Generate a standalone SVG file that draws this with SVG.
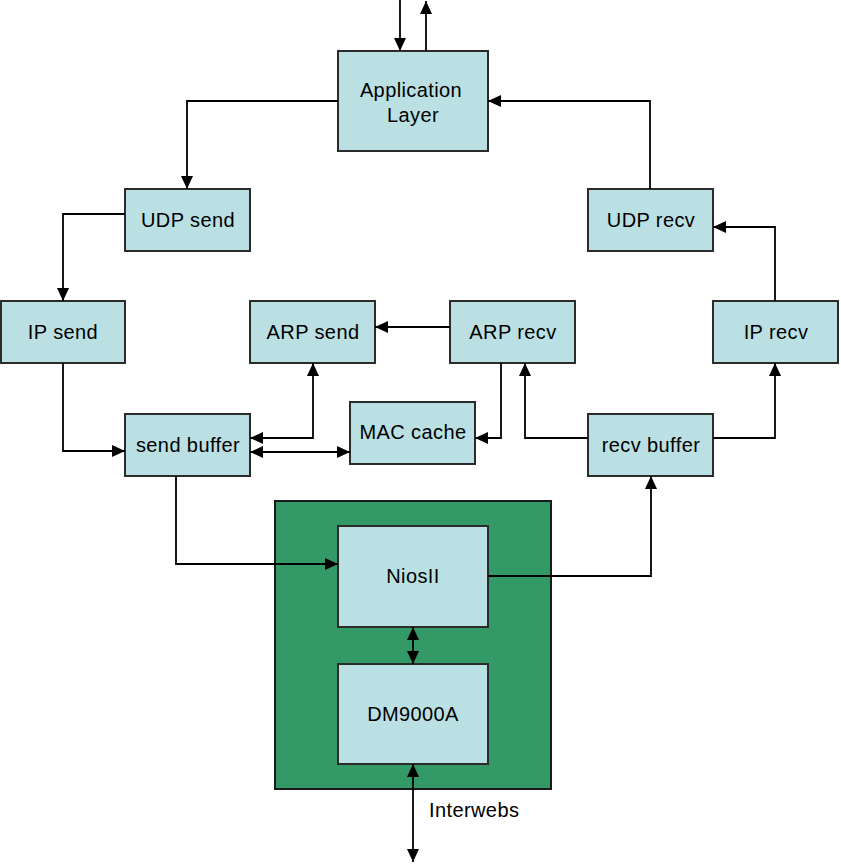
<svg xmlns="http://www.w3.org/2000/svg" width="841" height="867" viewBox="0 0 841 867">
<style>
.b{fill:#bbe0e3;stroke:#2b2b2b;stroke-width:2}
.t{font-family:"Liberation Sans",Arial,sans-serif;font-size:20px;letter-spacing:0.4px;fill:#000;text-anchor:middle}
.c{fill:none;stroke:#000;stroke-width:1.8}
</style>
<defs>
<marker id="a" viewBox="0 0 13 12" refX="13" refY="6" markerWidth="13" markerHeight="12" markerUnits="userSpaceOnUse" orient="auto-start-reverse">
<path d="M0,0 L13,6 L0,12 Z" fill="#000"/>
</marker>
</defs>
<rect width="841" height="867" fill="#fff"/>
<g id="board"><rect x="275" y="501" width="276" height="288" fill="#339966" stroke="#1a1a1a" stroke-width="2"/></g>
<g id="app"><rect class="b" x="338" y="51" width="150" height="100"/><text class="t" x="411" y="97">Application</text><text class="t" x="413" y="122">Layer</text></g>
<g id="udpsend"><rect class="b" x="125" y="189" width="125" height="62"/><text class="t" x="188" y="227">UDP send</text></g>
<g id="udprecv"><rect class="b" x="588" y="189" width="125" height="62"/><text class="t" x="651" y="227">UDP recv</text></g>
<g id="ipsend"><rect class="b" x="1" y="301" width="124" height="62"/><text class="t" x="63" y="339">IP send</text></g>
<g id="arpsend"><rect class="b" x="250" y="301" width="125" height="62"/><text class="t" x="313" y="339">ARP send</text></g>
<g id="arprecv"><rect class="b" x="450" y="301" width="125" height="62"/><text class="t" x="513" y="339">ARP recv</text></g>
<g id="iprecv"><rect class="b" x="713" y="301" width="125" height="62"/><text class="t" x="776" y="339">IP recv</text></g>
<g id="maccache"><rect class="b" x="350" y="402" width="125" height="62"/><text class="t" x="413" y="439">MAC cache</text></g>
<g id="sendbuffer"><rect class="b" x="125" y="414" width="125" height="62"/><text class="t" x="188" y="452">send buffer</text></g>
<g id="recvbuffer"><rect class="b" x="588" y="414" width="125" height="62"/><text class="t" x="651" y="452">recv buffer</text></g>
<g id="nios"><rect class="b" x="338" y="526" width="150" height="101"/><text class="t" x="413" y="583">NiosII</text></g>
<g id="dm9000a"><rect class="b" x="338" y="664" width="150" height="100"/><text class="t" x="413" y="721">DM9000A</text></g>
<g id="connectors">
<path class="c" d="M400,0 V51" marker-end="url(#a)"/>
<path class="c" d="M426,51 V1" marker-end="url(#a)"/>
<path class="c" d="M338,101 H187 V189" marker-end="url(#a)"/>
<path class="c" d="M125,214 H63 V301" marker-end="url(#a)"/>
<path class="c" d="M63,363 V451 H125" marker-end="url(#a)"/>
<path class="c" d="M176,476 V564 H338" marker-end="url(#a)"/>
<path class="c" d="M488,576 H651 V476" marker-end="url(#a)"/>
<path class="c" d="M713,438 H775 V363" marker-end="url(#a)"/>
<path class="c" d="M775,301 V227 H713" marker-end="url(#a)"/>
<path class="c" d="M650,189 V101 H488" marker-end="url(#a)"/>
<path class="c" d="M450,327 H375" marker-end="url(#a)"/>
<path class="c" d="M501,363 V438 H475" marker-end="url(#a)"/>
<path class="c" d="M588,438 H525 V363" marker-end="url(#a)"/>
<path class="c" d="M250,438 H313 V363" marker-start="url(#a)" marker-end="url(#a)"/>
<path class="c" d="M250,452 H350" marker-start="url(#a)" marker-end="url(#a)"/>
<path class="c" d="M413,627 V664" marker-start="url(#a)" marker-end="url(#a)"/>
<path class="c" d="M413,764 V862" marker-start="url(#a)" marker-end="url(#a)"/>
</g>
<text x="429" y="817" style="font-family:'Liberation Sans',Arial,sans-serif;font-size:20px;letter-spacing:0.4px">Interwebs</text>
</svg>
